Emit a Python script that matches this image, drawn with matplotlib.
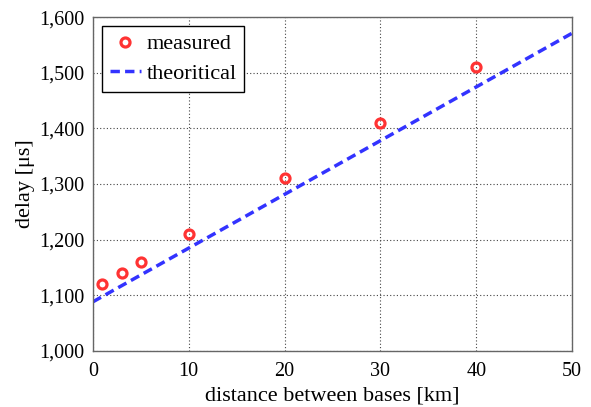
import numpy as np
import matplotlib
matplotlib.use("Agg")
import matplotlib.pyplot as plt
from matplotlib.ticker import FuncFormatter

# measured delay vs distance
dist_meas = [1, 3, 5, 10, 20, 30, 40]
delay_meas = [1120, 1140, 1160, 1210, 1310, 1410, 1510]

# theoretical line endpoints
dist_theo = [0, 50]
delay_theo = [1088, 1571]

plt.rcParams['font.family'] = ['Liberation Serif', 'DejaVu Serif']

fig = plt.figure(figsize=(5.91, 4.07), dpi=100)
ax = fig.add_axes([0.157, 0.138, 0.811, 0.82])

ax.plot(dist_meas, delay_meas, 'o', ms=6.5, mfc='none', mec='#ff3333', mew=2.3,
        label='measured', zorder=3)
ax.plot(dist_theo, delay_theo, '--', color='#3333ff', lw=2.5, dashes=(2.7, 1.5),
        label='theoritical', zorder=2)

ax.set_xlim(0, 50)
ax.set_ylim(1000, 1600)
ax.set_xticks(np.arange(0, 51, 10))
ax.set_yticks(np.arange(1000, 1601, 100))
ax.yaxis.set_major_formatter(FuncFormatter(lambda v, p: '{:,.0f}'.format(v)))
ax.grid(True, ls=(0, (1, 2)), color='#444444', lw=0.8)
ax.tick_params(direction='in', length=0, labelsize=14.5)
ax.tick_params(axis='x', pad=8)
ax.tick_params(axis='y', pad=6)
for s in ax.spines.values():
    s.set_color('#666666')
    s.set_linewidth(1.0)

ax.set_xlabel('distance between bases [km]', fontsize=16, labelpad=4)
ax.set_ylabel('delay [\u03bcs]', fontsize=16, labelpad=3)

leg = ax.legend(loc='upper left', fancybox=False, framealpha=1, edgecolor='black',
                fontsize=16, borderpad=0.35, handlelength=1.4, handletextpad=0.25,
                labelspacing=0.4, borderaxespad=0, bbox_to_anchor=(0.019, 0.973))
leg.get_frame().set_linewidth(1.0)

fig.savefig('out.png', dpi=100)
